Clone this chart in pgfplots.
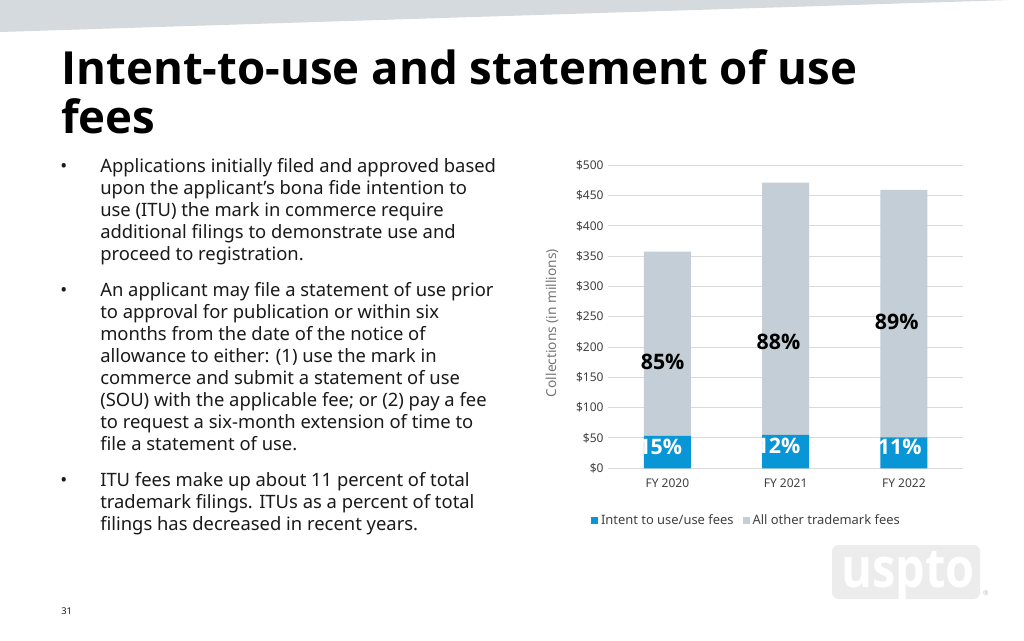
\documentclass[border=0pt]{standalone}
\usepackage{fontspec}
\setmainfont{Noto Sans}
\newfontfamily\tfont{Open Sans}
\usepackage{pgfplots}
\pgfplotsset{compat=1.18}
\definecolor{itublue}{RGB}{8,150,214}
\definecolor{othergrey}{RGB}{195,206,214}
\definecolor{gridgrey}{RGB}{217,217,217}
\definecolor{ticktext}{RGB}{64,64,64}
\definecolor{labgrey}{RGB}{118,118,118}
\definecolor{bandgrey}{RGB}{212,218,222}
\definecolor{logogrey}{RGB}{236,236,236}
\definecolor{bodytext}{RGB}{26,26,26}
\newcommand{\bfont}{\fontsize{13.8}{16}\selectfont}
\newcommand{\pfont}{\tfont\fontsize{16}{18}\selectfont\bfseries}
\begin{document}
\begin{tikzpicture}
\begin{scope}[x=0.75pt,y=-0.75pt]
\useasboundingbox (0,0) rectangle (1024,640);
\fill[white] (0,0) rectangle (1024,640);
\fill[bandgrey] (0,0) -- (1010,0) -- (0,32) -- cycle;
% title
\node[anchor=base west, inner sep=0, font=\tfont\fontsize{34.2}{36}\selectfont\bfseries] at (61,84.5) {Intent-to-use and statement of use};
\node[anchor=base west, inner sep=0, font=\tfont\fontsize{34.2}{36}\selectfont\bfseries] at (61,133.5) {fees};
% bullets
\begin{scope}[every node/.style={anchor=base west, inner sep=0, font=\bfont, text=bodytext}]
\node at (60,172.5) {•};
\node at (100,172.5) {Applications initially filed and approved based};
\node at (100,194.5) {upon the applicant’s bona fide intention to};
\node at (100,216.5) {use (ITU) the mark in commerce require};
\node at (100,238.5) {additional filings to demonstrate use and};
\node at (100,260.5) {proceed to registration.};
\node at (60,296) {•};
\node at (100,296) {An applicant may file a statement of use prior};
\node at (100,318.1) {to approval for publication or within six};
\node at (100,340.2) {months from the date of the notice of};
\node at (100,362.3) {allowance to either: (1) use the mark in};
\node at (100,384.4) {commerce and submit a statement of use};
\node at (100,406.5) {(SOU) with the applicable fee; or (2) pay a fee};
\node at (100,428.6) {to request a six-month extension of time to};
\node at (100,450.7) {file a statement of use.};
\node at (60,486) {•};
\node at (100,486) {ITU fees make up about 11 percent of total};
\node at (100,508) {trademark filings. ITUs as a percent of total};
\node at (100,530) {filings has decreased in recent years.};
\end{scope}
\node[anchor=base west, inner sep=0, font=\fontsize{7}{8}\selectfont, text=bodytext] at (61,614) {31};
% y label
\node[rotate=90, inner sep=0, font=\fontsize{10.3}{12}\selectfont, text=labgrey] at (552,323) {Collections (in millions)};
% logo
\fill[logogrey, rounded corners=5pt] (832,545) rectangle (980,599);
\node[anchor=base, inner sep=0, xscale=0.86, font=\tfont\fontsize{41}{41}\selectfont\bfseries, text=white] at (908,587) {uspto};
\node[inner sep=0, font=\fontsize{5}{5}\selectfont, text=logogrey!80!black] at (986,593) {®};
\end{scope}
\begin{axis}[
  at={(456.2pt,-351.2pt)}, anchor=south west,
  scale only axis, width=266pt, height=227.25pt,
  ybar stacked, bar width=35.25pt,
  xmin=-0.5, xmax=2.5, ymin=0, ymax=500,
  xtick={0,1,2}, xticklabels={FY 2020,FY 2021,FY 2022},
  ytick={0,50,...,500},
  yticklabels={\$0,\$50,\$100,\$150,\$200,\$250,\$300,\$350,\$400,\$450,\$500},
  ticklabel style={font=\fontsize{9}{10}\selectfont, text=ticktext},
  xticklabel style={yshift=-4.5pt},
  ymajorgrids, grid style={gridgrey, line width=0.75pt},
  axis line style={draw=none}, major tick style={draw=none},
  clip=false,
  legend columns=2,
  legend style={at={(axis description cs:0.391,-0.172)}, anchor=center, draw=none, fill=none,
    font=\fontsize{9.7}{11}\selectfont, text=ticktext,
    /tikz/every even column/.append style={column sep=5pt}},
  legend image code/.code={\fill[#1] (0pt,-2.6pt) rectangle (5.2pt,2.6pt);},
  after end axis/.code={
    \node[font=\pfont] at (axis cs:-0.04,175) {85\%};
    \node[font=\pfont] at (axis cs:0.94,208) {88\%};
    \node[font=\pfont] at (axis cs:1.94,241.5) {89\%};
    \begin{scope}
      \clip (axis cs:-0.2,0) rectangle (axis cs:0.2,53.5);
      \node[font=\pfont, text=white] at (axis cs:-0.06,35) {15\%};
    \end{scope}
    \begin{scope}
      \clip (axis cs:0.8,0) rectangle (axis cs:1.2,55);
      \node[font=\pfont, text=white] at (axis cs:0.94,37) {12\%};
    \end{scope}
    \begin{scope}
      \clip (axis cs:1.8,0) rectangle (axis cs:2.2,51);
      \node[font=\pfont, text=white] at (axis cs:1.965,35) {11\%};
    \end{scope}
  },
]
\addplot[fill=itublue, draw=none] coordinates {(0,53.5) (1,55) (2,51)};
\addplot[fill=othergrey, draw=none] coordinates {(0,304) (1,416.3) (2,408.2)};
\legend{Intent to use/use fees, All other trademark fees}
\end{axis}
\end{tikzpicture}
\end{document}
